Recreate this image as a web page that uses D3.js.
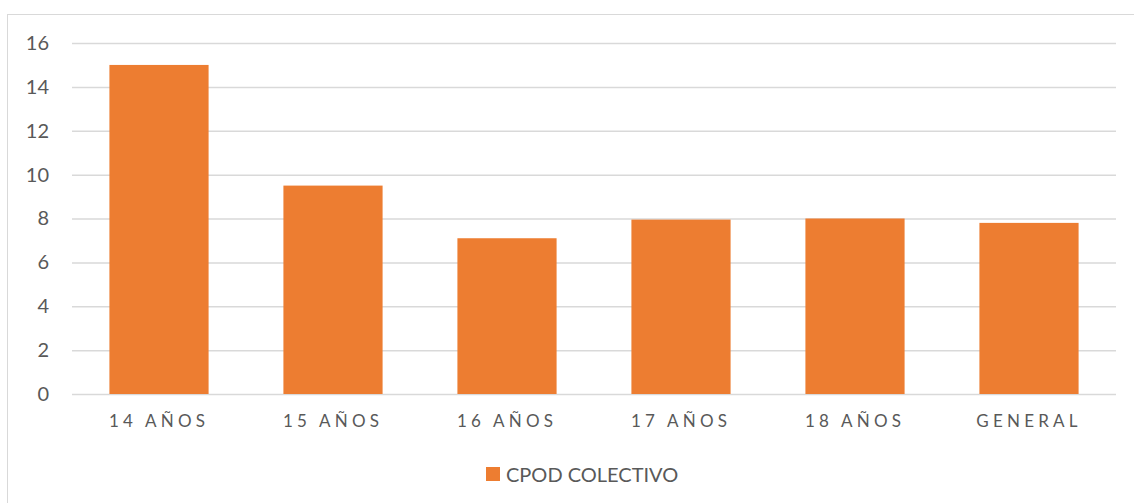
<!DOCTYPE html>
<html>
<head>
<meta charset="utf-8">
<script src="https://cdn.jsdelivr.net/npm/d3@7"></script>
<style>
  body { margin: 0; background: #fff; }
  #graph { width: 1134px; height: 503px; }
  text { font-family: Lato, "Open Sans", sans-serif; fill: #595959; }
</style>
</head>
<body>
<div id="graph"></div>
<script>
// カテゴリと値
var categories = ["14 AÑOS", "15 AÑOS", "16 AÑOS", "17 AÑOS", "18 AÑOS", "GENERAL"];
var values = [15.0, 9.5, 7.1, 7.95, 8.0, 7.8];
var yTicks = [0, 2, 4, 6, 8, 10, 12, 14, 16];
var seriesName = "CPOD COLECTIVO";

var width = 1134, height = 503;
var margin = { top: 43, left: 72, bottom: 109, right: 18 };
var chartWidth = width - margin.left - margin.right;
var chartHeight = height - margin.top - margin.bottom;

var svg = d3.select("#graph").append("svg")
  .attr("width", width).attr("height", height);

// 外枠
svg.append("rect")
  .attr("x", 7.5).attr("y", 14.5)
  .attr("width", 1130).attr("height", 500)
  .attr("fill", "none").attr("stroke", "#d9d9d9");

var data = categories.map(function(c, i) { return { name: c, value: values[i] }; });

var xScale = d3.scaleBand()
  .domain(categories)
  .range([0, chartWidth])
  .paddingInner(0.43)
  .paddingOuter(0.215);

var yScale = d3.scaleLinear().domain([0, 16]).range([chartHeight, 0]);

var chartLayer = svg.append("g")
  .attr("transform", "translate(" + [margin.left, margin.top] + ")");

// グリッド線と y 軸
var yAxis = d3.axisLeft(yScale).tickValues(yTicks).tickSize(-chartWidth);
var yG = chartLayer.append("g").attr("class", "axis y").call(yAxis);
yG.select(".domain").remove();
yG.selectAll("line").attr("stroke", "#d9d9d9").attr("stroke-width", 1.5);
yG.selectAll("text").style("font-size", "20px").attr("x", -23);

// バー
chartLayer.selectAll(".bar").data(data).enter()
  .append("rect")
  .attr("class", "bar")
  .attr("x", function(d) { return xScale(d.name); })
  .attr("y", function(d) { return yScale(d.value); })
  .attr("width", xScale.bandwidth())
  .attr("height", function(d) { return chartHeight - yScale(d.value); })
  .attr("fill", "#ED7D31");

// x 軸
var xAxis = d3.axisBottom(xScale).tickSize(0).tickPadding(21);
var xG = chartLayer.append("g").attr("class", "axis x")
  .attr("transform", "translate(0," + chartHeight + ")").call(xAxis);
xG.select(".domain").remove();
xG.selectAll("text").style("font-size", "17px").style("letter-spacing", "4.2px");

// 凡例
var legend = svg.append("g").attr("transform", "translate(486,467)");
legend.append("rect").attr("width", 14).attr("height", 14).attr("fill", "#ED7D31");
legend.append("text").attr("x", 20).attr("y", 14.5).style("font-size", "20px").text(seriesName);
</script>
</body>
</html>
